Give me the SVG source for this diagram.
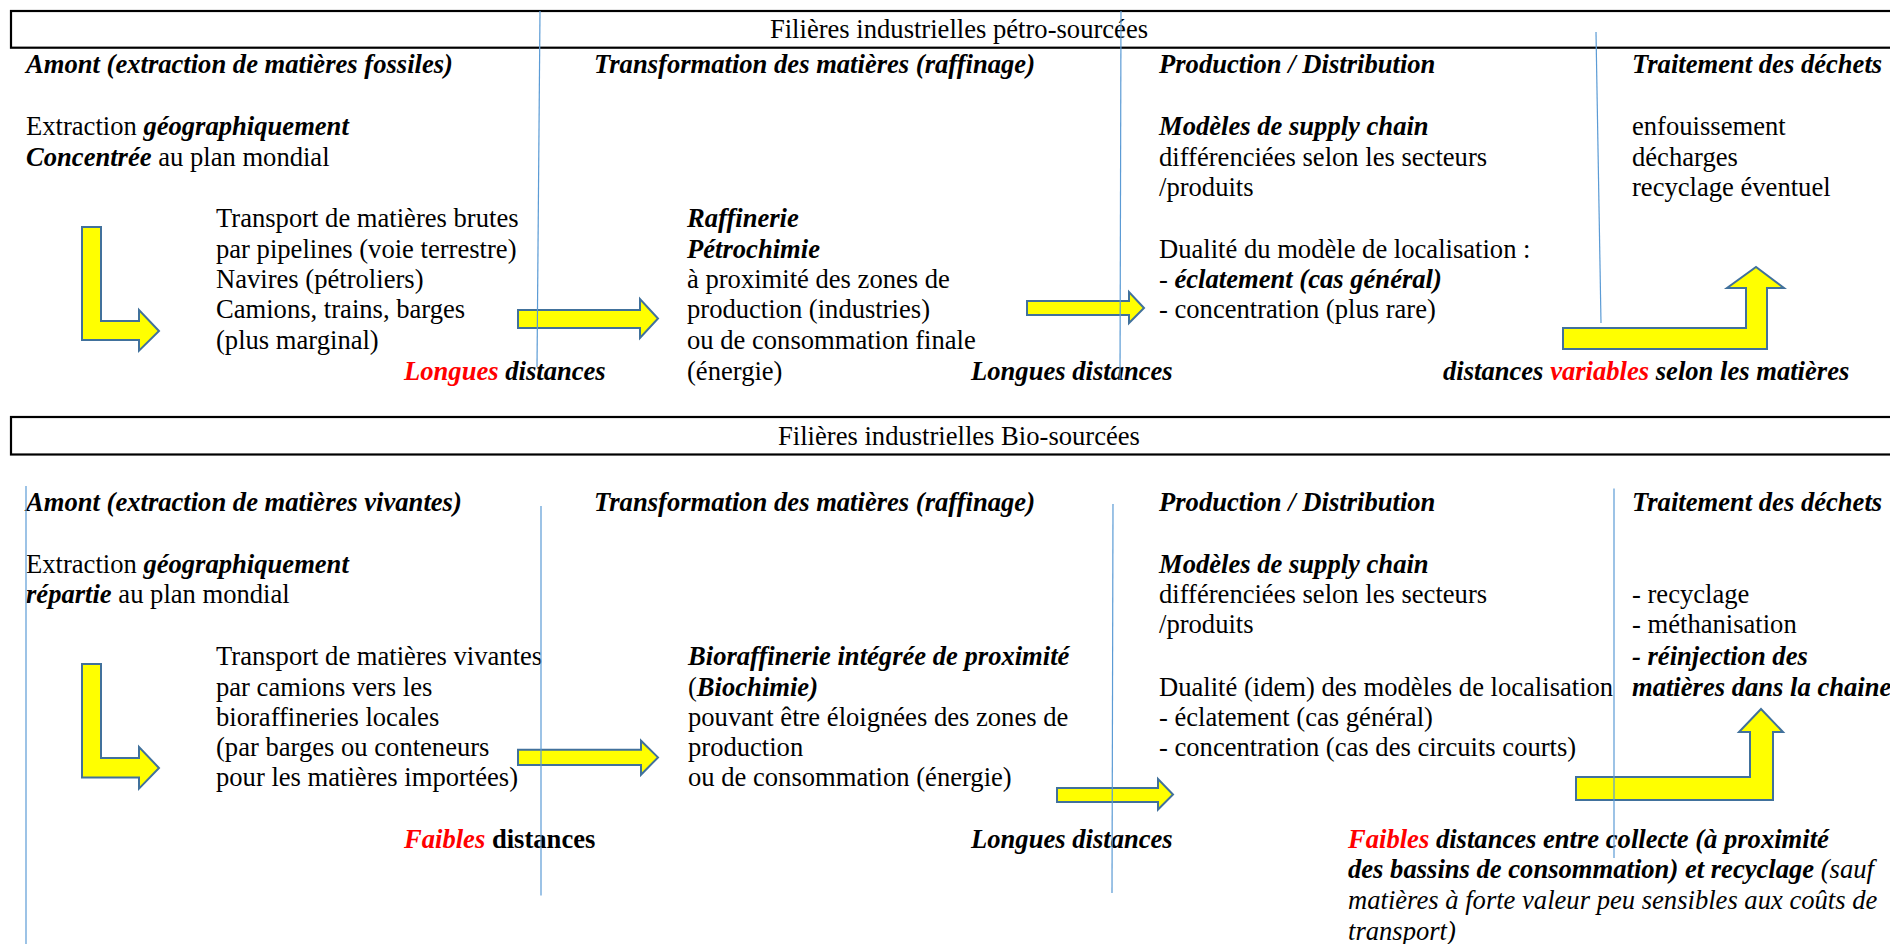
<svg xmlns="http://www.w3.org/2000/svg" width="1890" height="944" viewBox="0 0 1890 944">
<style>
.t{font-family:"Liberation Serif","Times New Roman",serif;font-size:26.6px;fill:#000}
.bi{font-weight:bold;font-style:italic}
.i{font-style:italic}
.b{font-weight:bold}
.r{fill:#FF0000}
.box{fill:none;stroke:#000;stroke-width:2.2}
.vl{stroke:#5B9BD5;stroke-width:1.2;fill:none}
.arr{fill:#FFFF00;stroke:#41719C;stroke-width:2;stroke-linejoin:miter}
</style>
<rect width="1890" height="944" fill="#fff"/>

<g id="header-petro">
<rect class="box" x="11" y="11" width="1900" height="36.7"/>
<text class="t" x="959" y="38" text-anchor="middle">Filières industrielles pétro-sourcées</text>
</g>
<g id="p-amont">
<text class="t"><tspan class="bi" x="26" y="73.3">Amont (extraction de matières fossiles)</tspan>
<tspan x="26" y="135">Extraction <tspan class="bi">géographiquement</tspan></tspan>
<tspan x="26" y="165.7"><tspan class="bi">Concentrée</tspan> au plan mondial</tspan></text>
</g>
<g id="p-transport">
<text class="t"><tspan x="216" y="226.7">Transport de matières brutes</tspan>
<tspan x="216" y="257.5">par pipelines (voie terrestre)</tspan>
<tspan x="216" y="287.5">Navires (pétroliers)</tspan>
<tspan x="216" y="318">Camions, trains, barges</tspan>
<tspan x="216" y="348.5">(plus marginal)</tspan></text>
<text class="t bi" x="404" y="380"><tspan class="r">Longues</tspan> distances</text>
</g>
<g id="p-transfo">
<text class="t"><tspan class="bi" x="594" y="73.3">Transformation des matières (raffinage)</tspan>
<tspan class="bi" x="687" y="226.7">Raffinerie</tspan>
<tspan class="bi" x="687" y="257.5">Pétrochimie</tspan>
<tspan x="687" y="287.5">à proximité des zones de</tspan>
<tspan x="687" y="318">production (industries)</tspan>
<tspan x="687" y="348.5">ou de consommation finale</tspan>
<tspan x="687" y="380">(énergie)</tspan></text>
<text class="t bi" x="971" y="380">Longues distances</text>
</g>
<g id="p-production">
<text class="t"><tspan class="bi" x="1159" y="73.3">Production / Distribution</tspan>
<tspan class="bi" x="1159" y="135">Modèles de supply chain</tspan>
<tspan x="1159" y="165.7">différenciées selon les secteurs</tspan>
<tspan x="1159" y="196">/produits</tspan>
<tspan x="1159" y="257.5">Dualité du modèle de localisation :</tspan>
<tspan x="1159" y="287.5">- <tspan class="bi">éclatement (cas général)</tspan></tspan>
<tspan x="1159" y="318">- concentration (plus rare)</tspan></text>
</g>
<g id="p-dechets">
<text class="t"><tspan class="bi" x="1632" y="73.3">Traitement des déchets</tspan>
<tspan x="1632" y="135">enfouissement</tspan>
<tspan x="1632" y="165.7">décharges</tspan>
<tspan x="1632" y="196">recyclage éventuel</tspan></text>
<text class="t bi" x="1443" y="380">distances <tspan class="r">variables</tspan> selon les matières</text>
</g>

<g id="header-bio">
<rect class="box" x="11" y="417" width="1900" height="37.5"/>
<text class="t" x="959" y="445" text-anchor="middle">Filières industrielles Bio-sourcées</text>
</g>
<g id="b-amont">
<text class="t"><tspan class="bi" x="26" y="511">Amont (extraction de matières vivantes)</tspan>
<tspan x="26" y="572.5">Extraction <tspan class="bi">géographiquement</tspan></tspan>
<tspan x="26" y="602.5"><tspan class="bi">répartie</tspan> au plan mondial</tspan></text>
</g>
<g id="b-transport">
<text class="t"><tspan x="216" y="665.4">Transport de matières vivantes</tspan>
<tspan x="216" y="695.5">par camions vers les</tspan>
<tspan x="216" y="725.5">bioraffineries locales</tspan>
<tspan x="216" y="756">(par barges ou conteneurs</tspan>
<tspan x="216" y="786">pour les matières importées)</tspan></text>
<text class="t" x="404" y="847.6"><tspan class="bi r">Faibles</tspan> <tspan class="b">distances</tspan></text>
</g>
<g id="b-transfo">
<text class="t"><tspan class="bi" x="594" y="511">Transformation des matières (raffinage)</tspan>
<tspan class="bi" x="688" y="665.4">Bioraffinerie intégrée de proximité</tspan>
<tspan x="688" y="695.5">(<tspan class="bi">Biochimie)</tspan></tspan>
<tspan x="688" y="725.5">pouvant être éloignées des zones de</tspan>
<tspan x="688" y="756">production</tspan>
<tspan x="688" y="786">ou de consommation (énergie)</tspan></text>
<text class="t bi" x="971" y="847.6">Longues distances</text>
</g>
<g id="b-production">
<text class="t"><tspan class="bi" x="1159" y="511">Production / Distribution</tspan>
<tspan class="bi" x="1159" y="572.5">Modèles de supply chain</tspan>
<tspan x="1159" y="602.5">différenciées selon les secteurs</tspan>
<tspan x="1159" y="632.5">/produits</tspan>
<tspan x="1159" y="695.5">Dualité (idem) des modèles de localisation</tspan>
<tspan x="1159" y="725.5">- éclatement (cas général)</tspan>
<tspan x="1159" y="756">- concentration (cas des circuits courts)</tspan></text>
</g>
<g id="b-dechets">
<text class="t"><tspan class="bi" x="1632" y="511">Traitement des déchets</tspan>
<tspan x="1632" y="602.5">- recyclage</tspan>
<tspan x="1632" y="632.5">- méthanisation</tspan>
<tspan class="bi" x="1632" y="665.4">- réinjection des</tspan>
<tspan class="bi" x="1632" y="695.5">matières dans la chaine</tspan></text>
<text class="t"><tspan x="1348" y="847.6" class="bi"><tspan class="r">Faibles</tspan> distances entre collecte (à proximité</tspan>
<tspan x="1348" y="878" class="bi">des bassins de consommation) et recyclage <tspan style="font-weight:normal">(sauf</tspan></tspan>
<tspan x="1348" y="908.5" class="i">matières à forte valeur peu sensibles aux coûts de</tspan>
<tspan x="1348" y="939.6" class="i">transport)</tspan></text>
</g>

<g id="connectors">
<path class="arr" d="M82,227 L101,227 L101,321 L139,321 L139,310 L159,331 L139,350.7 L139,340 L82,340 Z"/>
<path class="arr" d="M518,310 L640,310 L640,299 L658,318.5 L640,338 L640,328 L518,328 Z"/>
<path class="arr" d="M1027,301 L1129,301 L1129,292 L1144,308 L1129,323 L1129,315 L1027,315 Z"/>
<path class="arr" d="M1563,328 L1746,328 L1746,288 L1727,288 L1756,267 L1784,288 L1767,288 L1767,349 L1563,349 Z"/>
<path class="arr" d="M82,664 L101,664 L101,758 L139,758 L139,747 L159,768 L139,788.6 L139,777.5 L82,777.5 Z"/>
<path class="arr" d="M518,749.8 L641,749.8 L641,740.7 L658,757.4 L641,774.7 L641,765 L518,765 Z"/>
<path class="arr" d="M1057,788 L1158,788 L1158,779 L1173,794.5 L1158,809.5 L1158,802 L1057,802 Z"/>
<path class="arr" d="M1576,777 L1750,777 L1750,732 L1739,732 L1761,709 L1783,732 L1773,732 L1773,800 L1576,800 Z"/>
</g>
<g id="dividers">
<line class="vl" x1="540" y1="11" x2="537" y2="367"/>
<line class="vl" x1="1121" y1="11" x2="1120" y2="380"/>
<line class="vl" x1="1596" y1="32" x2="1601" y2="323"/>
<line class="vl" x1="26" y1="486" x2="26" y2="944"/>
<line class="vl" x1="541" y1="506" x2="541" y2="895.5"/>
<line class="vl" x1="1113" y1="504" x2="1112" y2="893"/>
<line class="vl" x1="1614" y1="488.5" x2="1614" y2="858"/>
</g>
</svg>
